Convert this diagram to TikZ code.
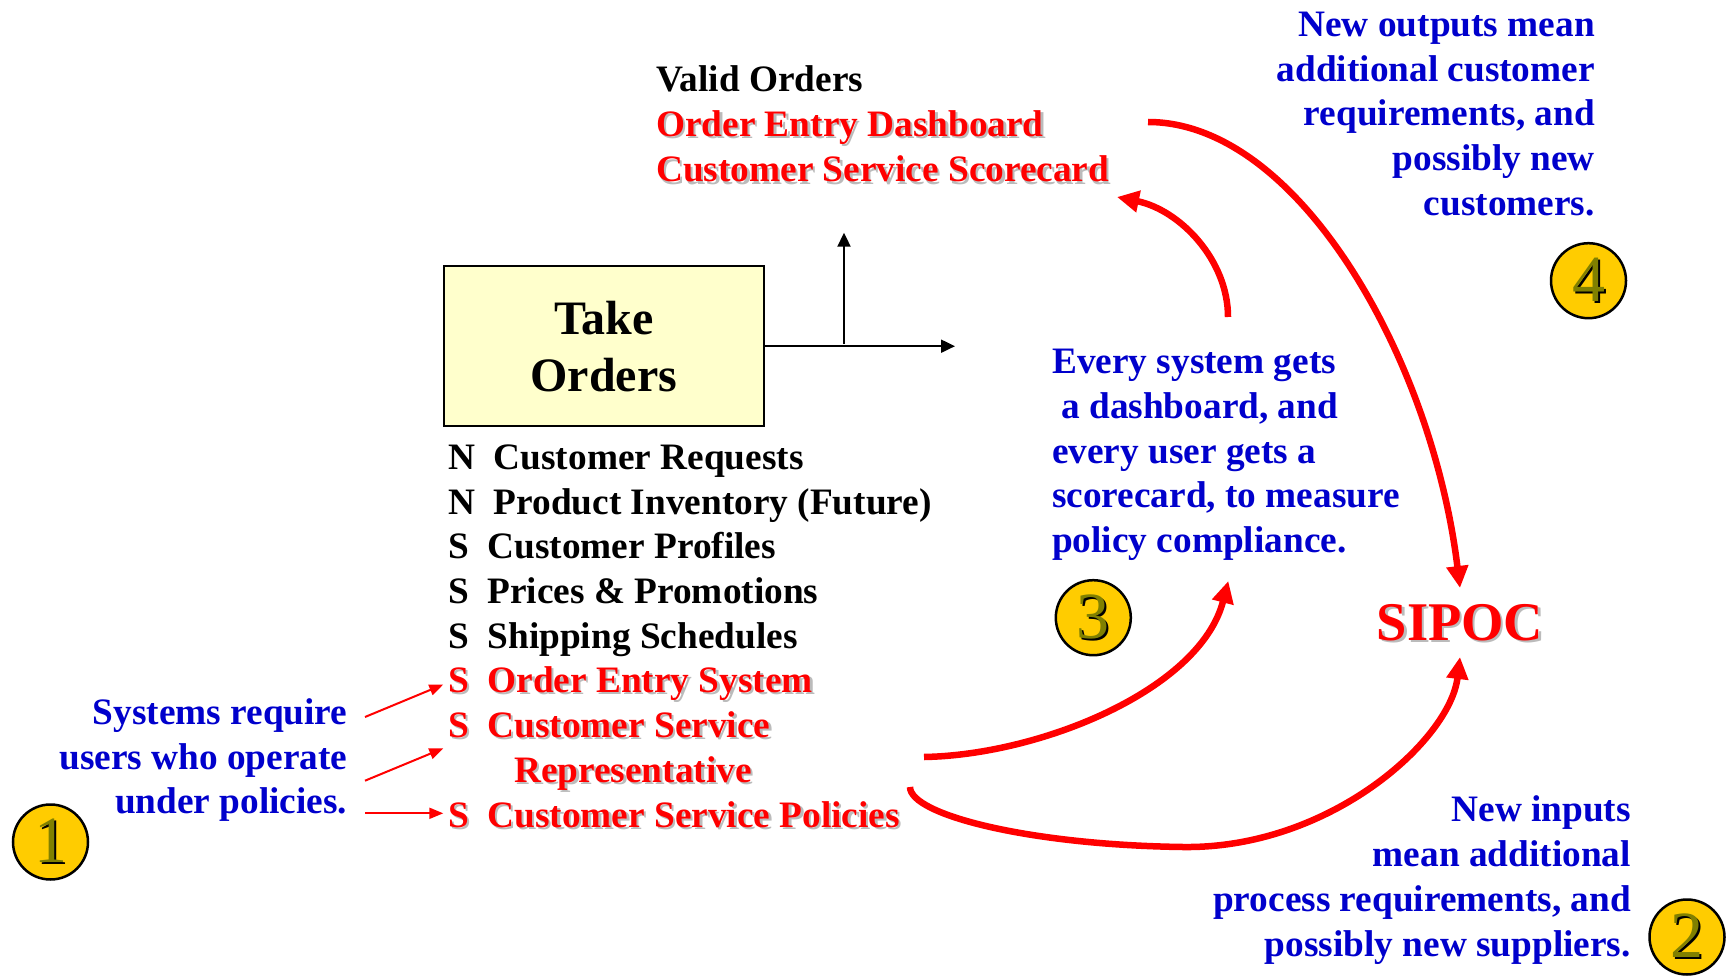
\documentclass[tikz,border=0pt]{standalone}
\usepackage{fontspec}
\setmainfont{Liberation Serif}
\usetikzlibrary{arrows.meta}
\definecolor{myred}{HTML}{FF0000}
\definecolor{myblue}{HTML}{0000CC}
\definecolor{boxfill}{HTML}{FFFFCC}
\definecolor{coin}{HTML}{FFCC00}
\definecolor{olivedig}{HTML}{808000}
\definecolor{shgray}{HTML}{BBBBBB}
\newcommand\shd[1]{\leavevmode\rlap{\kern2.4pt\raisebox{-2.4pt}{\color{shgray}#1}}#1}
\newcommand\dig[1]{\leavevmode\rlap{\kern2pt\raisebox{-2pt}{\color{black}#1}}{\color{olivedig}#1}}
\begin{document}
\begin{tikzpicture}[x=1pt,y=-1pt,
  txt/.style={inner sep=0pt, font=\fontsize{37.3}{45}\selectfont\bfseries},
  rtxt/.style={txt,text=myred},
  btxt/.style={txt,text=myblue},
  ktxt/.style={txt,text=black},
  coinc/.style={circle, draw=black, line width=2.5pt, fill=coin, minimum size=75pt, inner sep=0pt, font=\fontsize{66}{66}\selectfont},
  bigarrow/.style={draw=myred, line width=6.5pt, -{Triangle[length=22pt,width=21pt]}},
  thinarrow/.style={draw=myred, line width=2pt, -{Triangle[length=14pt,width=11pt]}},
  karrow/.style={draw=black, line width=2pt, -{Triangle[length=14pt,width=13pt]}},
]
\fill[white] (0,0) rectangle (1726,976);
\useasboundingbox (0,0) rectangle (1726,976);

% process box
\node[draw=black, line width=2pt, fill=boxfill, minimum width=320.4pt, minimum height=159.6pt,
  inner sep=0pt, align=center, font=\fontsize{48}{57}\selectfont\bfseries] (take) at (603.8,346.2) {Take\\Orders};

% outputs
\node[ktxt, anchor=base west] (vo) at (656,91.5) {Valid Orders};
\node[rtxt, anchor=base west] (oed) at (656,136.5) {\shd{Order Entry Dashboard}};
\node[rtxt, anchor=base west] (css) at (656,182) {\shd{Customer Service Scorecard}};

% inputs list
\node[ktxt, anchor=base west] (l1) at (448,469.5) {N~~Customer Requests};
\node[ktxt, anchor=base west] (l2) at (448,514) {N~~Product Inventory (Future)};
\node[ktxt, anchor=base west] (l3) at (448,558.5) {S~~Customer Profiles};
\node[ktxt, anchor=base west] (l4) at (448,603.5) {S~~Prices \& Promotions};
\node[ktxt, anchor=base west] (l5) at (448,648) {S~~Shipping Schedules};
\node[rtxt, anchor=base west] (l6) at (448,692.5) {\shd{S~~Order Entry System}};
\node[rtxt, anchor=base west] (l7) at (448,737.5) {\shd{S~~Customer Service}};
\node[rtxt, anchor=base west] (l8) at (514,782) {\shd{Representative}};
\node[rtxt, anchor=base west] (l9) at (448,827) {\shd{S~~Customer Service Policies}};

% top-right note
\node[btxt, anchor=base east] (t1) at (1595,36.5) {New outputs mean};
\node[btxt, anchor=base east] (t2) at (1595,81.5) {additional customer};
\node[btxt, anchor=base east] (t3) at (1595,126) {requirements, and};
\node[btxt, anchor=base east] (t4) at (1595,171) {possibly new};
\node[btxt, anchor=base east] (t5) at (1595,216) {customers.};

% middle note
\node[btxt, anchor=base west] (m1) at (1052,373.5) {Every system gets};
\node[btxt, anchor=base west] (m2) at (1052,418.5) {\hspace*{9.2pt}a dashboard, and};
\node[btxt, anchor=base west] (m3) at (1052,463.5) {every user gets a};
\node[btxt, anchor=base west] (m4) at (1052,507.5) {scorecard, to measure};
\node[btxt, anchor=base west] (m5) at (1052,552.5) {policy compliance.};

% bottom-right note
\node[btxt, anchor=base east] (b1) at (1631,821.5) {New inputs};
\node[btxt, anchor=base east] (b2) at (1631,866.5) {mean additional};
\node[btxt, anchor=base east] (b3) at (1631,911.5) {process requirements, and};
\node[btxt, anchor=base east] (b4) at (1631,956) {possibly new suppliers.};

% bottom-left note
\node[btxt, anchor=base east] (s1) at (347.5,724.5) {Systems require};
\node[btxt, anchor=base east] (s2) at (347.5,769.5) {users who operate};
\node[btxt, anchor=base east] (s3) at (347.5,813.5) {under policies.};

% SIPOC
\node[rtxt, font=\fontsize{54.5}{60}\selectfont\bfseries] (sipoc) at (1460,624) {\shd{SIPOC}};

% numbered coins
\node[coinc] (c1) at (50.5,842) {\dig{1}};
\node[coinc] (c2) at (1687,937) {\dig{2}};
\node[coinc] (c3) at (1093.3,617.7) {\dig{3}};
\node[coinc] (c4) at (1588.5,280.7) {\dig{4}};

% black output arrows
\coordinate (hend) at (955,346.2);
\coordinate (vbot) at (844,344);
\coordinate (vtop) at (844,232.7);
\draw[karrow] (take.east) -- (hend);
\draw[karrow] (vbot) -- (vtop);

% thin red arrows
\coordinate (a1s) at (365,717);
\coordinate (a1e) at (443.3,684.5);
\coordinate (a2s) at (365,780.7);
\coordinate (a2e) at (443.3,748.3);
\coordinate (a3s) at (365,813.3);
\coordinate (a3e) at (443.3,813.3);
\draw[thinarrow] (a1s) -- (a1e);
\draw[thinarrow] (a2s) -- (a2e);
\draw[thinarrow] (a3s) -- (a3e);

% thick red curves
\coordinate (A0) at (924,757);
\coordinate (A1) at (1228.3,581);
\draw[bigarrow] (A0) .. controls (1040,755) and (1200,690) .. (A1);
\coordinate (B0) at (1228,317);
\coordinate (B1) at (1117,197);
\draw[bigarrow] (B0) .. controls (1228,260) and (1180,210) .. (B1);
\coordinate (C0) at (1148,122);
\coordinate (C1) at (1460,588);
\draw[bigarrow] (C0) .. controls (1298,122) and (1432,358) .. (C1);
\coordinate (D0) at (910,787);
\coordinate (Dm) at (1183,847);
\coordinate (D1) at (1460,657);
\draw[bigarrow] (D0) .. controls (910,815) and (1030,845) .. (Dm) .. controls (1330,849) and (1450,740) .. (D1);
\end{tikzpicture}
\end{document}
